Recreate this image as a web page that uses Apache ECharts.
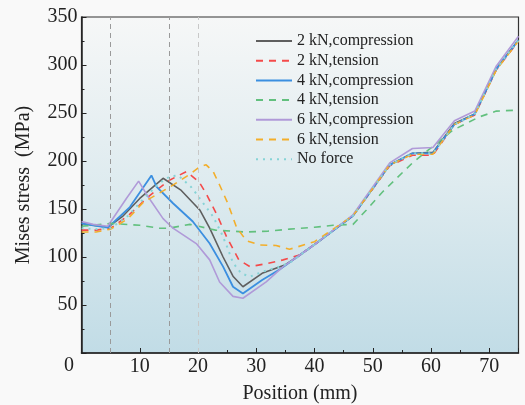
<!DOCTYPE html>
<html>
<head>
<meta charset="utf-8">
<script src="https://cdn.jsdelivr.net/npm/echarts@6/dist/echarts.min.js"></script>
<style>
html,body{margin:0;padding:0;background:#f9f9f9;}
#c{width:525px;height:405px;}
</style>
</head>
<body>
<div id="c"></div>
<script>
// Data: [position (mm), Mises stress (MPa)]
var comp2 = [[0,135],[2,133],[4.5,131],[7,142],[10,161],[14,182],[17,170],[20.3,149],[22,130],[24.3,100],[26,80],[27.7,69],[31,83],[35,92],[37,100],[40,113],[46.6,143],[52.9,196],[56.8,208],[60.3,209],[64,239],[67.5,249],[71.2,296],[75,326]];
var tens2 = [[0,128],[2.5,128],[5,130],[8,143],[11.7,164],[15.1,180],[18,189],[20.2,178],[21.4,166],[23.4,142],[24.9,121],[27,97],[28.9,90],[31.7,93],[34.6,97],[37.4,102],[40,113],[46.6,143],[52.9,195],[56.8,206],[60.3,206],[64,238],[67.5,248],[71.2,295],[75,325]];
var comp4 = [[0,135],[2,133],[4.5,130.5],[8.3,152],[12,185],[12.9,173],[15.7,156],[19.1,137],[22,114],[24.3,90],[26,69],[27.7,62],[31,76],[34,87],[37,100],[40,113],[46.6,143],[52.9,196],[56.8,208],[60.3,208],[64,238],[67.5,249],[71.2,296],[75,326]];
var tens4 = [[0,132],[5,135],[10,133],[13.4,130],[15,130],[18.6,134],[23,128],[28.3,126],[32,127],[35.7,129],[40,131],[43.2,133],[46.6,134],[48.9,149],[51.7,168],[56.8,198],[63.7,232],[68.3,246],[71.2,252],[75,253]];
var comp6 = [[0,137],[2,134],[4.5,132],[7.7,161],[9.8,179],[11.4,163],[14,140],[15.7,130],[19.7,114],[22,97],[23.7,74],[26,59],[27.7,57],[31.7,74],[34.6,90],[37,100],[40,113],[46.6,144],[52.9,198],[56.8,213],[60.3,214],[64,242],[67.5,252],[71.2,299],[75,330]];
var tens6 = [[0,126],[2.5,126],[5,129],[8,140],[10.6,157],[15.2,173],[18.8,187],[20.3,194],[21.4,196],[22.6,189],[23.7,175],[25.1,156],[26.6,131],[28.3,117],[30.6,112.5],[33.4,112],[35.7,108],[40,116],[46.6,143],[52.9,196],[56.8,207],[60.3,207],[64,238],[67.5,248],[71.2,295],[75,325]];
var noForce = [[0,130],[2.5,129],[5,130],[8,143],[11,163],[13.4,177],[15.2,184],[16.6,185],[18.8,173],[19.7,166],[20.9,156],[22.6,142],[24,125],[24.9,112],[26,94],[27.4,83],[28.9,79.5],[31.7,86],[34,90],[36,95],[40,113],[46.6,143],[52.9,196],[56.8,208],[60.3,208],[64,238],[67.5,249],[71.2,296],[75,326]];
var refLines = [5, 15, 20];
var seriesNames = ['2 kN,compression','2 kN,tension','4 kN,compression','4 kN,tension','6 kN,compression','6 kN,tension','No force'];

var FONT = '"Liberation Serif", "Times New Roman", serif';
var chart = echarts.init(document.getElementById('c'), null, {renderer:'canvas'});

function mk(name, data, color, type, width){
  return {
    name: name, type: 'line', data: data, symbol: 'none', smooth: false,
    lineStyle: {color: color, width: width || 1.6, type: type || 'solid'},
    itemStyle: {color: color},
    z: 3
  };
}

var series = [
  mk(seriesNames[0], comp2, '#5f5f5f', 'solid', 1.6),
  mk(seriesNames[1], tens2, '#f44a4a', [7,6], 1.6),
  mk(seriesNames[2], comp4, '#3b8fe0', 'solid', 1.8),
  mk(seriesNames[3], tens4, '#62c07e', [7,6], 1.6),
  mk(seriesNames[4], comp6, '#b09ad8', 'solid', 1.6),
  mk(seriesNames[5], tens6, '#f3ae2a', [7,6], 1.6),
  mk(seriesNames[6], noForce, '#86d3d6', [2,5], 2)
];
series[0].markLine = {
  silent: true, symbol: 'none', label: {show:false},
  data: refLines.map(function(v, i){
    return {xAxis: v, lineStyle: {color: i === 2 ? '#c8c8c8' : '#9a9a9a', type: [5,4], width: 1}};
  })
};

chart.setOption({
  backgroundColor: '#f9f9f9',
  animation: false,
  grid: {
    left: 81.5, right: 6.5, top: 17, bottom: 52,
    outerBoundsMode: 'none', containLabel: false,
    show: true, borderColor: '#333', borderWidth: 1.2,
    backgroundColor: {type:'linear', x:0, y:0, x2:0, y2:1, colorStops:[
      {offset:0, color:'#f6f7f7'}, {offset:0.5, color:'#deebef'}, {offset:1, color:'#c1dce6'}]}
  },
  legend: {
    orient: 'vertical', left: 250, top: 28,
    itemWidth: 36, itemHeight: 14, itemGap: 3.7,
    data: seriesNames,
    itemStyle: {opacity: 0},
    textStyle: {fontFamily: FONT, fontSize: 16, color: '#222', lineHeight: 16}
  },
  xAxis: {
    type: 'value', min: 0, max: 75, interval: 10,
    name: 'Position (mm)', nameLocation: 'middle', nameGap: 31,
    nameTextStyle: {fontFamily: FONT, fontSize: 20, color: '#222'},
    axisLine: {lineStyle: {color: '#222', width: 1.5}},
    axisTick: {inside: true, length: 5, lineStyle: {color:'#222'}},
    minorTick: {show: true, splitNumber: 2, length: 3, lineStyle: {color:'#222'}},
    splitLine: {show: false},
    axisLabel: {fontFamily: FONT, fontSize: 20, color: '#222', margin: 4, showMaxLabel: false,
      formatter: function(v){ return (v === 0 || v === 75) ? '' : String(v); }}
  },
  yAxis: {
    type: 'value', min: 0, max: 350, interval: 50,
    name: 'Mises stress  (MPa)', nameLocation: 'middle', nameGap: 48,
    nameTextStyle: {fontFamily: FONT, fontSize: 20, color: '#222'},
    axisLine: {show: true, lineStyle: {color: '#222', width: 1.5}},
    axisTick: {inside: true, length: 5, lineStyle: {color:'#222'}},
    minorTick: {show: true, splitNumber: 2, length: 3, lineStyle: {color:'#222'}},
    splitLine: {show: false},
    axisLabel: {fontFamily: FONT, fontSize: 20, color: '#222', margin: 4,
      formatter: function(v){ return v === 0 ? '' : String(v); }}
  },
  graphic: [{
    type: 'text', left: 64, top: 356,
    style: {text: '0', font: '20px ' + FONT, fill: '#222'}
  }],
  series: series
});
</script>
</body>
</html>
